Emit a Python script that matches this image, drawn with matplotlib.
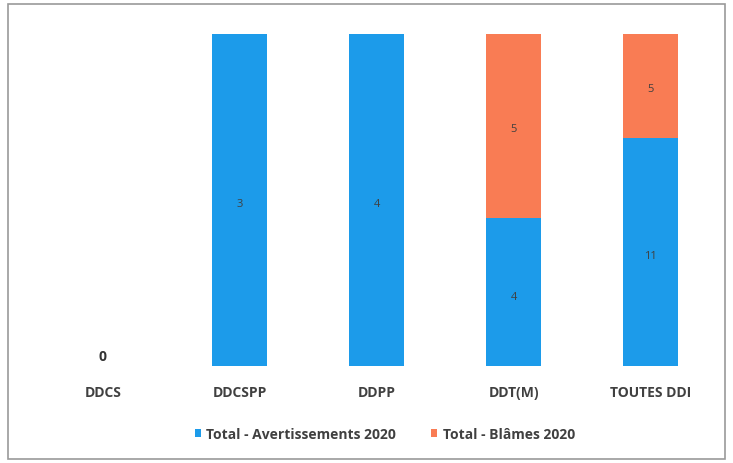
import matplotlib.pyplot as plt
from matplotlib.patches import Rectangle
import numpy as np

categories = ["DDCS", "DDCSPP", "DDPP", "DDT(M)", "TOUTES DDI"]
avertissements = [0, 3, 4, 4, 11]
blames = [0, 0, 0, 5, 5]

blue = "#1C9BEA"
orange = "#F97C54"

plt.rcParams["font.family"] = ["Open Sans", "DejaVu Sans"]

fig = plt.figure(figsize=(7.33, 4.64), dpi=100)
ax = fig.add_axes([0.047, 0.209, 0.934, 0.716])

x = np.arange(len(categories))
av = np.array(avertissements, dtype=float)
bl = np.array(blames, dtype=float)
tot = av + bl
safe = np.where(tot == 0, 1, tot)
av_pct = av / safe
bl_pct = bl / safe

w = 0.4
ax.bar(x, av_pct, w, color=blue, label="Total - Avertissements 2020")
ax.bar(x, bl_pct, w, bottom=av_pct, color=orange, label="Total - Blâmes 2020")

# labels sit a touch below the segment centre in the reference
for i in range(len(categories)):
    if tot[i] == 0:
        ax.text(x[i], 0.01, "0", ha="center", va="bottom", fontsize=10,
                fontweight="bold", color="#333333")
        continue
    if av[i] > 0:
        ax.text(x[i], av_pct[i] / 2 - 0.012, str(avertissements[i]), ha="center",
                va="center", fontsize=8, color="#404040")
    if bl[i] > 0:
        ax.text(x[i], av_pct[i] + bl_pct[i] / 2 - 0.008, str(blames[i]), ha="center",
                va="center", fontsize=8, color="#404040")

ax.set_xlim(-0.5, 4.5)
ax.set_ylim(0, 1)
ax.set_xticks(x)
ax.set_xticklabels(categories, fontsize=10, fontweight="bold", color="#404040")
ax.tick_params(axis="x", length=0, pad=14)
ax.set_yticks([])
for s in ax.spines.values():
    s.set_visible(False)

fig.legend(loc="center", bbox_to_anchor=(0.525, 0.063), ncol=2, frameon=False,
           handlelength=0.45, handleheight=0.45, columnspacing=2.5,
           handletextpad=0.4, labelcolor="#404040",
           prop={"weight": "bold", "size": 10})

fig.patches.append(Rectangle((0.011, 0.009), 0.978, 0.98, transform=fig.transFigure,
                             fill=False, edgecolor="#9a9a9a", linewidth=1.2))

fig.savefig("out.png", dpi=100)
